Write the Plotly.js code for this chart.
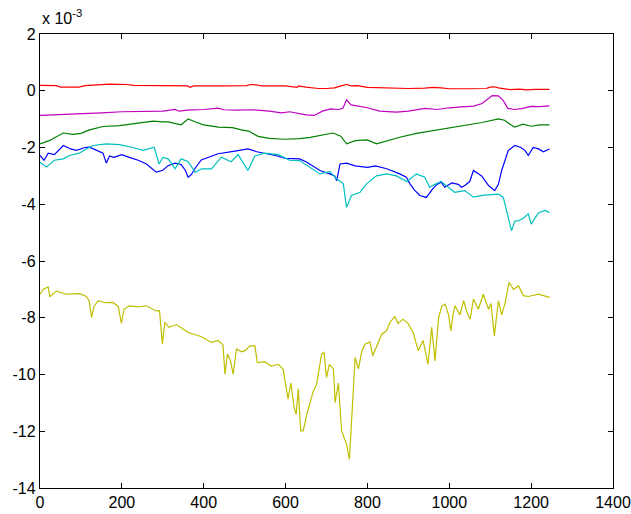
<!DOCTYPE html>
<html>
<head>
<meta charset="utf-8">
<script src="https://cdn.plot.ly/plotly-3.0.1.min.js"></script>
<style>html,body{margin:0;padding:0;background:#fff;}#chart{width:631px;height:514px;}</style>
</head>
<body>
<div id="chart"></div>
<script>
// values in units of 1e-3
const xTicks = [0, 200, 400, 600, 800, 1000, 1200, 1400];
const yTicks = [-14, -12, -10, -8, -6, -4, -2, 0, 2];
const yTickText = ["-14", "-12", "-10", "-8", "-6", "-4", "-2", "0", "2"];

const blueX = [0,10,20,35,57,75,89,110,121,138,154,162,170,180,200,218,240,260,275,284,300,313,330,345,355,362,370,379,394,420,435,476,508,530,557,580,600,634,650,670,684,708,720,725,733,749,770,800,820,847,865,879,895,904,915,928,944,952,960,970,980,989,1006,1022,1030,1038,1050,1059,1079,1096,1111,1120,1128,1144,1160,1175,1185,1193,1205,1218,1230,1245];
const blueY = [-2.28,-2.45,-2.2,-2.25,-1.93,-2.05,-2.1,-2.0,-1.99,-2.1,-2.2,-2.55,-2.3,-2.35,-2.25,-2.35,-2.45,-2.58,-2.75,-2.87,-2.8,-2.64,-2.55,-2.6,-2.8,-3.05,-2.95,-2.73,-2.44,-2.3,-2.22,-2.13,-2.05,-2.15,-2.22,-2.3,-2.38,-2.4,-2.5,-2.7,-2.81,-2.93,-3.0,-3.17,-2.58,-2.55,-2.65,-2.7,-2.65,-2.75,-2.85,-2.93,-3.05,-3.28,-3.5,-3.69,-3.76,-3.6,-3.45,-3.3,-3.22,-3.4,-3.25,-3.3,-3.4,-3.34,-3.2,-2.81,-3.0,-3.34,-3.52,-3.3,-2.81,-2.11,-1.93,-2.0,-2.1,-2.28,-2.0,-2.05,-2.15,-2.05];

const greenX = [0,24,40,57,80,100,121,154,194,235,276,300,313,345,362,380,400,436,470,492,510,533,560,598,634,660,690,716,735,749,770,800,822,850,879,920,960,1000,1038,1080,1120,1135,1150,1160,1180,1200,1220,1245];
const greenY = [-1.87,-1.75,-1.62,-1.49,-1.54,-1.5,-1.38,-1.26,-1.23,-1.16,-1.07,-1.1,-1.1,-1.2,-0.99,-1.1,-1.2,-1.28,-1.3,-1.38,-1.42,-1.61,-1.68,-1.71,-1.69,-1.64,-1.55,-1.49,-1.6,-1.87,-1.76,-1.73,-1.87,-1.75,-1.64,-1.5,-1.4,-1.3,-1.22,-1.12,-0.99,-1.04,-1.2,-1.28,-1.18,-1.25,-1.2,-1.2];

const redX = [0,40,50,95,110,140,170,210,230,300,360,367,375,450,505,515,528,540,600,628,632,650,680,700,720,735,750,760,775,800,830,870,900,940,960,980,1000,1050,1090,1100,1110,1120,1135,1150,1170,1190,1210,1245];
const redY = [0.19,0.18,0.13,0.13,0.18,0.2,0.23,0.22,0.19,0.18,0.17,0.12,0.17,0.17,0.18,0.22,0.21,0.17,0.17,0.12,0.17,0.13,0.08,0.08,0.1,0.17,0.22,0.17,0.18,0.12,0.1,0.08,0.08,0.09,0.12,0.1,0.07,0.07,0.08,0.13,0.14,0.1,0.08,0.04,0.06,0.03,0.05,0.05];

const cyanX = [0,16,35,57,72,96,113,130,162,194,227,252,279,291,300,313,330,345,362,379,395,419,443,467,484,508,525,549,582,610,634,660,684,708,725,741,749,761,782,798,822,847,871,896,911,920,940,952,965,980,989,1013,1038,1059,1085,1120,1132,1140,1152,1160,1169,1180,1193,1200,1218,1235,1245];
const cyanY = [-2.52,-2.69,-2.45,-2.4,-2.28,-2.2,-2.05,-1.93,-1.87,-1.9,-2.0,-2.1,-1.99,-2.58,-2.35,-2.4,-2.75,-2.4,-2.5,-2.87,-2.75,-2.75,-2.34,-2.5,-2.25,-2.81,-2.3,-2.2,-2.25,-2.45,-2.46,-2.7,-2.93,-2.85,-3.1,-3.28,-4.11,-3.69,-3.58,-3.28,-3.0,-2.93,-3.0,-3.2,-3.05,-2.93,-3.05,-3.4,-3.3,-3.2,-3.3,-3.58,-3.52,-3.75,-3.68,-3.64,-3.76,-4.22,-4.93,-4.6,-4.58,-4.5,-4.34,-4.7,-4.3,-4.22,-4.3];

const magentaX = [0,20,40,80,120,150,200,260,300,330,340,360,400,435,450,480,520,560,590,610,630,650,670,690,710,730,740,749,760,780,800,830,870,900,940,970,1000,1030,1060,1080,1095,1105,1120,1132,1143,1160,1180,1200,1220,1245];
const magentaY = [-0.87,-0.86,-0.84,-0.83,-0.8,-0.78,-0.74,-0.73,-0.72,-0.66,-0.72,-0.68,-0.66,-0.61,-0.67,-0.68,-0.67,-0.72,-0.78,-0.74,-0.8,-0.85,-0.87,-0.72,-0.64,-0.66,-0.62,-0.32,-0.5,-0.56,-0.6,-0.72,-0.75,-0.72,-0.62,-0.66,-0.6,-0.57,-0.54,-0.45,-0.28,-0.17,-0.18,-0.35,-0.62,-0.66,-0.62,-0.55,-0.56,-0.53];

const yellowX = [0,8,20,24,40,65,97,113,120,126,132,142,160,178,191,199,205,218,240,260,284,292,299,305,315,333,345,362,380,395,419,435,447,452,458,465,472,480,492,502,513,525,531,549,565,582,594,606,613,621,626,631,637,643,652,660,668,676,688,694,700,707,717,721,729,737,749,756,761,766,770,778,786,794,806,813,822,835,847,855,867,875,887,899,912,924,936,948,957,965,974,982,990,998,1004,1009,1014,1026,1035,1043,1051,1059,1071,1083,1096,1102,1110,1120,1128,1136,1146,1157,1169,1181,1193,1205,1218,1230,1245];
const yellowY = [-7.17,-7.0,-6.91,-7.26,-7.06,-7.17,-7.15,-7.25,-7.4,-7.99,-7.6,-7.4,-7.47,-7.46,-7.6,-8.2,-7.7,-7.58,-7.62,-7.58,-7.76,-7.75,-8.93,-8.16,-8.34,-8.24,-8.35,-8.52,-8.6,-8.67,-8.87,-8.8,-8.95,-9.99,-9.28,-9.5,-9.99,-9.1,-9.2,-9.15,-8.99,-8.99,-9.58,-9.55,-9.7,-9.64,-9.81,-10.87,-10.3,-11.17,-11.4,-10.5,-11.99,-11.99,-11.4,-10.99,-10.58,-10.34,-9.28,-9.22,-10.1,-9.64,-9.8,-10.99,-10.3,-11.99,-12.46,-12.99,-11.58,-10.58,-9.4,-9.8,-9.2,-8.93,-8.85,-9.34,-9.0,-8.58,-8.45,-8.16,-7.96,-8.2,-8.05,-8.2,-8.52,-9.16,-8.8,-9.64,-8.34,-9.52,-7.99,-7.58,-7.52,-7.9,-8.46,-7.9,-7.58,-7.9,-7.4,-7.8,-8.05,-7.34,-7.7,-7.17,-7.7,-7.5,-8.64,-7.4,-7.9,-7.5,-6.75,-7.0,-6.87,-7.22,-7.25,-7.2,-7.17,-7.22,-7.28];

const series = [
  {x: blueX, y: blueY, c: '#0000FF'},
  {x: greenX, y: greenY, c: '#008000'},
  {x: redX, y: redY, c: '#FF0000'},
  {x: cyanX, y: cyanY, c: '#00BFBF'},
  {x: magentaX, y: magentaY, c: '#BF00BF'},
  {x: yellowX, y: yellowY, c: '#BFBF00'}
];

const traces = series.map(s => ({
  x: s.x, y: s.y, type: 'scatter', mode: 'lines',
  line: {color: s.c, width: 1.2}, hoverinfo: 'skip'
}));

const FONT = 'Liberation Sans, Arial, sans-serif';
const axisCommon = {
  showline: true, linecolor: '#000', linewidth: 1.2, mirror: 'ticks',
  ticks: 'inside', ticklen: 5, tickwidth: 1, tickcolor: '#000',
  showgrid: false, zeroline: false,
  tickfont: {family: FONT, size: 16, color: '#000'}
};

const layout = {
  width: 631, height: 514,
  margin: {l: 40, r: 18, t: 34, b: 26, pad: 0},
  paper_bgcolor: '#fff', plot_bgcolor: '#fff',
  showlegend: false,
  xaxis: Object.assign({}, axisCommon, {range: [0, 1400], tickvals: xTicks, ticktext: xTicks.map(String)}),
  yaxis: Object.assign({}, axisCommon, {range: [-14, 2], tickvals: yTicks, ticktext: yTickText}),
  annotations: [{
    text: 'x 10<sup>-3</sup>', xref: 'paper', yref: 'paper', x: 0, y: 1.01,
    xanchor: 'left', yanchor: 'bottom', showarrow: false,
    font: {family: FONT, size: 16, color: '#000'}
  }]
};

Plotly.newPlot('chart', traces, layout, {staticPlot: true, displayModeBar: false});
</script>
</body>
</html>
